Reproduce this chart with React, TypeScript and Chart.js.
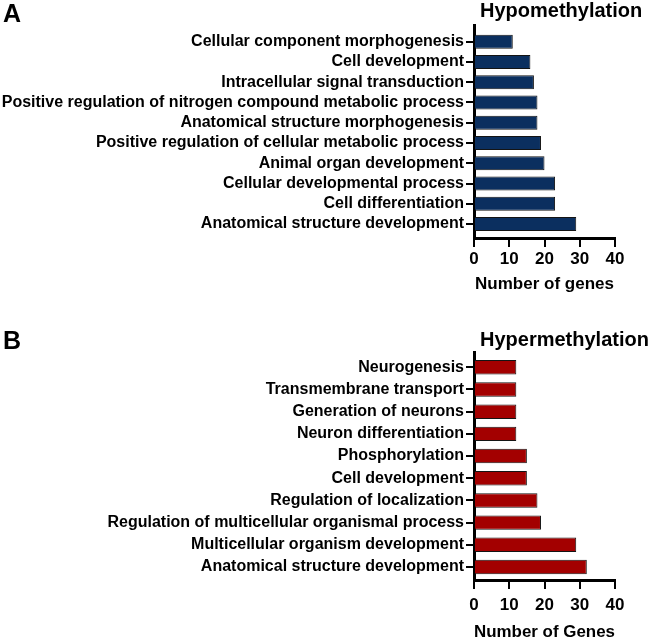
import React, { useEffect, useRef } from "react";
import { Chart, registerables } from "chart.js";

Chart.register(...registerables);

const hypoCategories = [
  "Cellular component morphogenesis",
  "Cell development",
  "Intracellular signal transduction",
  "Positive regulation of nitrogen compound metabolic process",
  "Anatomical structure morphogenesis",
  "Positive regulation of cellular metabolic process",
  "Animal organ development",
  "Cellular developmental process",
  "Cell differentiation",
  "Anatomical structure development",
];
const hypoValues = [11, 16, 17, 18, 18, 19, 20, 23, 23, 29];

const hyperCategories = [
  "Neurogenesis",
  "Transmembrane transport",
  "Generation of neurons",
  "Neuron differentiation",
  "Phosphorylation",
  "Cell development",
  "Regulation of localization",
  "Regulation of multicellular organismal process",
  "Multicellular organism development",
  "Anatomical structure development",
];
const hyperValues = [12, 12, 12, 12, 15, 15, 18, 19, 29, 32];

const xTicks = [0, 10, 20, 30, 40];

const FONT = "'Liberation Sans', Arial, sans-serif";

type PanelProps = {
  categories: string[];
  values: number[];
  color: string;
  xTitle: string;
  height: number;
  padTop: number;
  padBottom: number;
  yMin: number;
  yMax: number;
  barPct: number;
  tickPad: number;
  titlePad: number;
};

function Panel(p: PanelProps) {
  const ref = useRef<HTMLCanvasElement | null>(null);
  useEffect(() => {
    if (!ref.current) return;
    const chart = new Chart(ref.current, {
      type: "bar",
      data: {
        datasets: [
          {
            data: p.categories.map((c, i) => ({ x: p.values[i], y: i })),
            backgroundColor: p.color,
            borderColor: "#141414",
            borderWidth: 1,
            barPercentage: p.barPct,
            categoryPercentage: 1,
          },
        ],
      },
      options: {
        indexAxis: "y",
        animation: false,
        responsive: false,
        devicePixelRatio: 1,
        layout: { padding: { top: p.padTop, right: 36, bottom: p.padBottom, left: 0 } },
        plugins: {
          legend: { display: false },
          tooltip: { enabled: false },
          title: { display: false },
        },
        scales: {
          x: {
            type: "linear",
            min: 0,
            max: 40,
            offset: false,
            afterBuildTicks: (scale: any) => {
              scale.ticks = xTicks.map((v) => ({ value: v }));
            },
            ticks: {
              color: "#000",
              font: { family: FONT, size: 17, weight: "bold" },
              padding: p.tickPad,
            },
            grid: {
              display: true,
              offset: false,
              drawOnChartArea: false,
              drawTicks: true,
              tickLength: 9,
              color: "#000",
              lineWidth: 2,
            },
            border: { display: true, color: "#000", width: 3 },
            title: {
              display: true,
              text: p.xTitle,
              color: "#000",
              font: { family: FONT, size: 17, weight: "bold" },
              padding: { top: p.titlePad, bottom: 0 },
            },
          },
          y: {
            type: "linear",
            reverse: true,
            offset: false,
            bounds: "data",
            min: p.yMin,
            max: p.yMax,
            afterBuildTicks: (scale: any) => {
              scale.ticks = p.categories.map((c, i) => ({ value: i }));
            },
            afterFit: (scale: any) => {
              scale.width = 474;
            },
            ticks: {
              color: "#000",
              font: { family: FONT, size: 16, weight: "bold" },
              padding: 2,
              autoSkip: false,
              callback: (v: any) => p.categories[Math.round(Number(v))] ?? "",
            },
            grid: {
              display: true,
              offset: false,
              drawOnChartArea: false,
              drawTicks: true,
              tickLength: 8,
              color: "#000",
              lineWidth: 2,
            },
            border: { display: true, color: "#000", width: 3 },
          },
        },
      },
    });
    return () => chart.destroy();
  }, []);
  return <canvas ref={ref} width={651} height={p.height} style={{ display: "block" }} />;
}

const titleStyle: React.CSSProperties = {
  position: "absolute",
  left: 480,
  fontSize: 20,
  lineHeight: "20px",
  fontWeight: "bold",
  color: "#000",
  whiteSpace: "nowrap",
};

const letterStyle: React.CSSProperties = {
  position: "absolute",
  left: 3,
  fontSize: 25,
  lineHeight: "25px",
  fontWeight: "bold",
  color: "#000",
};

export default function App() {
  return (
    <div
      style={{
        position: "absolute",
        left: 0,
        top: 0,
        width: 651,
        height: 643,
        background: "#fff",
        overflow: "hidden",
        fontFamily: FONT,
      }}
    >
      <div style={{ position: "absolute", left: 0, top: 0 }}>
        <Panel
          categories={hypoCategories}
          values={hypoValues}
          color="#0b2f5f"
          xTitle="Number of genes"
          height={300}
          padTop={25}
          padBottom={5.3}
          yMin={-0.824}
          yMax={9.69}
          barPct={0.69}
          tickPad={2.1}
          titlePad={2.7}
        />
      </div>
      <div style={{ position: "absolute", left: 0, top: 330 }}>
        <Panel
          categories={hyperCategories}
          values={hyperValues}
          color="#a30000"
          xTitle="Number of Genes"
          height={313}
          padTop={22}
          padBottom={0.8}
          yMin={-0.69}
          yMax={9.586}
          barPct={0.65}
          tickPad={5.8}
          titlePad={0.8}
        />
      </div>
      <div style={{ ...titleStyle, top: 0 }}>Hypomethylation</div>
      <div style={{ ...titleStyle, top: 329 }}>Hypermethylation</div>
      <div style={{ ...letterStyle, top: 1 }}>A</div>
      <div style={{ ...letterStyle, top: 328 }}>B</div>
    </div>
  );
}
